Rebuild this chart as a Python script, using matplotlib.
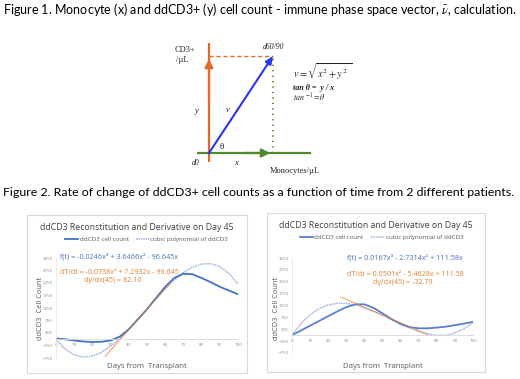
import numpy as np
import matplotlib
matplotlib.use("Agg")
import matplotlib.pyplot as plt
from matplotlib.patches import Rectangle

plt.rcParams['mathtext.fontset'] = 'stix'

W, H = 520, 379

# Figure 1 diagram: normalized monocyte (x) and ddCD3+ (y) components
mono_x = 1.0
cd3_y = 1.0

# Figure 2 data (days from transplant)
days = [0, 5, 10, 15, 20, 25, 30, 35, 40, 45, 50, 55, 60, 65, 70, 75, 80, 85, 90, 95, 100]

left_count = [30, 0, -50, -90, -110, -100, -50, 100, 400, 800, 1200, 1650, 2100, 2450,
              2620, 2600, 2450, 2280, 2100, 1950, 1800]
left_cubic = [0, -395, -626, -712, -671, -521, -282, 30, 394, 794, 1209, 1623, 2015, 2369,
              2665, 2886, 3012, 3024, 2907, 2639, 2201]
left_tan_x = [27, 63]
left_tan_y = [-684, 2272]

right_count = [0, 200, 400, 600, 800, 1000, 1180, 1300, 1300, 1150, 920, 680, 470, 340,
               290, 290, 320, 360, 420, 490, 560]
right_cubic = [0, 492, 859, 1116, 1273, 1343, 1340, 1275, 1162, 1012, 838, 653, 469, 299,
               155, 50, -4, -5, 92, 267, 544]
right_tan_x = [27, 75]
right_tan_y = [1602, 28]

x_ticks = [0, 10, 20, 30, 40, 50, 60, 70, 80, 90, 100]
y_ticks = [-750, -250, 250, 750, 1250, 1750, 2250, 2750, 3250]

chart_title = "ddCD3 Reconstitution and Derivative on Day 45"
left_eqs = ["f(t) = -0.0246x\u00b3 + 3.6466x\u00b2 - 96.645x",
            "dT/dt = -0.0738x\u00b2 + 7.2932x - 96.645",
            "dy/dx(45) = 82.10"]
right_eqs = ["f(t) = 0.0167x\u00b3 - 2.7314x\u00b2 + 111.58x",
             "dT/dt = 0.0501x\u00b2 - 5.4628x + 111.58",
             "dy/dx(45) = -32.79"]

BLUE = "#4472C4"
LIGHT = "#9DB3E3"
ORANGE = "#ED7D31"
GREY = "#8C8C8C"


def px_axes(fig, x0, y0, x1, y1):
    # axes from pixel box (top-left origin)
    return fig.add_axes([x0 / W, 1 - y1 / H, (x1 - x0) / W, (y1 - y0) / H])


fig = plt.figure(figsize=(W / 100, H / 100), dpi=100)
canvas = fig.add_axes([0, 0, 1, 1])
canvas.set_xlim(0, W)
canvas.set_ylim(H, 0)
canvas.axis('off')

title_font = dict(family=['Lato', 'DejaVu Sans'], color='black')
canvas.text(3, 9, r"Figure 1. Monocyte (x) and ddCD3+ (y) cell count - immune phase space vector, $\bar{\nu}$, calculation.",
            va='center', ha='left', fontsize=9.0, **title_font)
canvas.text(3, 193, "Figure 2. Rate of change of ddCD3+ cell counts as a function of time from 2 different patients.",
            va='center', ha='left', fontsize=8.9, **title_font)

# ---- Figure 1 diagram ----
ax_d = px_axes(fig, 190, 40, 330, 175)
ax_d.set_xlim(-(209 - 190) / 64, (330 - 209) / 64)
ax_d.set_ylim(-(175 - 153) / 97, (153 - 40) / 97)
ax_d.axis('off')

c_or, c_gr, c_bl = "#E06A2C", "#4F8A2B", "#2536F2"
ax_d.plot([0, 0], [-0.09, 1.13], color=c_or, lw=1.6, solid_capstyle='butt')
ax_d.annotate('', xy=(0, cd3_y), xytext=(0, 0.5),
              arrowprops=dict(arrowstyle='-|>,head_length=0.5,head_width=0.25', color=c_or, lw=1.6))
ax_d.plot([-0.19, 1.6], [0, 0], color=c_gr, lw=1.6, solid_capstyle='butt')
ax_d.annotate('', xy=(mono_x, 0), xytext=(0.5, 0),
              arrowprops=dict(arrowstyle='-|>,head_length=0.5,head_width=0.25', color=c_gr, lw=1.6))
ax_d.annotate('', xy=(mono_x, cd3_y), xytext=(0, 0),
              arrowprops=dict(arrowstyle='-|>,head_length=0.45,head_width=0.2', color=c_bl, lw=1.5,
                              shrinkA=0, shrinkB=0))
ax_d.plot([0, mono_x], [cd3_y, cd3_y], color=c_or, lw=1.0, ls=(0, (3, 2)))
ax_d.plot([mono_x, mono_x], [0, cd3_y], color=c_gr, lw=1.4, ls=(0, (0.6, 2.2)))

serif = dict(family=['Liberation Serif', 'DejaVu Serif'], color='#222222')
canvas.text(175, 50, "CD3+", fontsize=6, va='center', ha='left', **serif)
canvas.text(176, 60, "/\u00b5L", fontsize=6, va='center', ha='left', **serif)
canvas.text(274, 47, "d60/90", fontsize=5.5, style='italic', va='center', ha='center', **serif)
canvas.text(197, 111, "y", fontsize=6, style='italic', va='center', ha='center', **serif)
canvas.text(228, 110, "v", fontsize=6, style='italic', va='center', ha='center', **serif)
canvas.text(222, 147, "\u03b8", fontsize=6.5, va='center', ha='center', **serif)
canvas.text(196, 163, "d0", fontsize=5.5, style='italic', va='center', ha='center', **serif)
canvas.text(236, 163, "x", fontsize=6, style='italic', va='center', ha='center', **serif)
canvas.text(270, 171, "Monocytes/\u00b5L", fontsize=6, va='center', ha='left', **serif)
canvas.text(293, 72, r"$v = \sqrt{x^2 + y^2\;\,}$", fontsize=7.5, va='center', ha='left', color='#222222')
canvas.text(293, 88, "tan \u03b8 =  y / x", fontsize=5.8, style='italic', weight='bold',
            va='center', ha='left', **serif)
canvas.text(293, 98, r"$\mathit{tan}^{\,-1}\!= \theta$", fontsize=5.8, va='center', ha='left', color='#222222')

# ---- Figure 2 panels ----
sans = ['Open Sans', 'DejaVu Sans']


def panel(frame, plot_box, count, cubic, tan_x, tan_y, eqs, eq_pos, legend_x, count_color):
    fx0, fy0, fx1, fy1 = frame
    canvas.add_patch(Rectangle((fx0, fy0), fx1 - fx0, fy1 - fy0, fill=False,
                               edgecolor='#D9D9D9', lw=0.8))
    cx = (fx0 + fx1) / 2
    canvas.text(cx, fy0 + 13, chart_title, fontsize=6.3, family=sans, color='#404040',
                ha='center', va='center')

    px0, py0, px1, py1 = plot_box
    ax = px_axes(fig, px0, py0, px1, py1)
    ax.set_xlim(0, 100)
    ax.set_ylim(-750, 3250)
    ax.patch.set_alpha(0)
    ax.plot(days, cubic, color=LIGHT, lw=1.1, ls=(0, (1, 0.6)), label='cubic polynomial of ddCD3')
    ax.plot(days, count, color=count_color, lw=1.3, label='ddCD3 cell count')
    ax.plot(tan_x, tan_y, color=ORANGE, lw=0.7, alpha=0.8)
    ax.set_xticks(x_ticks)
    ax.set_yticks(y_ticks)
    ax.tick_params(length=0, labelsize=3.2, labelcolor=GREY, pad=2.5)
    for s in ['top', 'right']:
        ax.spines[s].set_visible(False)
    ax.spines['bottom'].set_position(('data', 0))
    ax.spines['bottom'].set_color('#D9D9D9')
    ax.spines['bottom'].set_linewidth(0.6)
    ax.spines['left'].set_color('#E3E3E3')
    ax.spines['left'].set_linewidth(0.5)
    for lab in ax.get_xticklabels() + ax.get_yticklabels():
        lab.set_family(sans)

    # legend
    h, l = ax.get_legend_handles_labels()
    fig.legend(h[::-1], l[::-1], loc='center left',
               bbox_to_anchor=(legend_x / W, 1 - (fy0 + 24) / H), ncol=2, frameon=False,
               prop=dict(family=sans, size=4.5), labelcolor='#595959', handlelength=2.2,
               handletextpad=0.2, columnspacing=1.1, borderaxespad=0)

    # equations
    (ex, ey, ha) = eq_pos
    canvas.text(ex, ey, eqs[0], fontsize=5.2, family=sans, color=BLUE, ha=ha, va='center')
    canvas.text(ex, ey + 16, eqs[1], fontsize=5.1, family=sans, color=ORANGE, ha=ha, va='center')
    canvas.text(ex + (53 if ha == 'left' else -2), ey + 24, eqs[2], fontsize=5.1, family=sans,
                color=ORANGE, ha='center' if ha == 'left' else ha, va='center')

    canvas.text((px0 + px1) / 2, 366, "Days from  Transplant", fontsize=5.6, family=sans,
                color='#595959', ha='center', va='center')
    canvas.text(px0 - 16, 308, "ddCD3  Cell Count", fontsize=5.4, family=sans,
                color='#595959', ha='center', va='center', rotation=90)


panel((27, 215, 247, 373), (56, 258, 238, 358), left_count, left_cubic,
      left_tan_x, left_tan_y, left_eqs, (60, 257, 'left'), 62, BLUE)
panel((267, 213, 485, 372), (292, 258, 473, 353), right_count, right_cubic,
      right_tan_x, right_tan_y, right_eqs, (405, 258, 'center'), 297, "#5B7FD6")

fig.savefig("out.png", dpi=100)
